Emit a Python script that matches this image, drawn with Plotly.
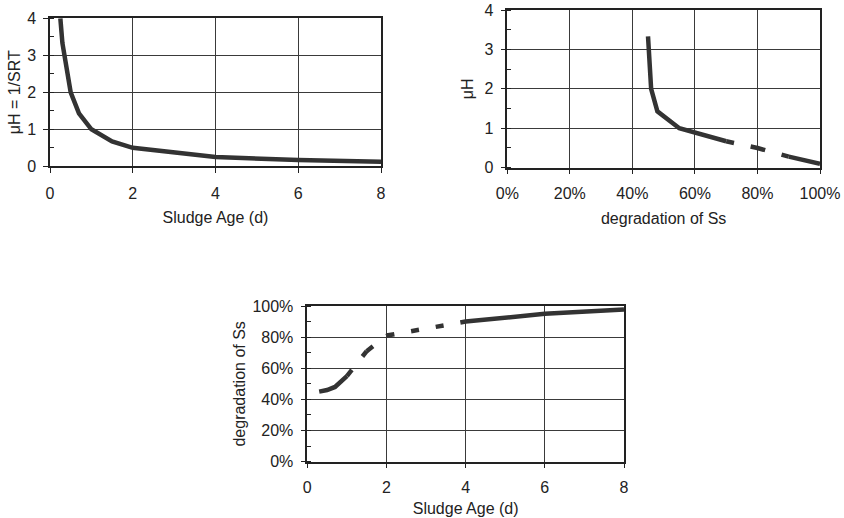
import plotly.graph_objects as go

# ---- data ----
# Chart 1: mu_H vs sludge age
srt1 = [0.25, 0.3, 0.5, 0.7, 1, 1.5, 2, 4, 6, 8]
muh1 = [4, 3.33, 2, 1.43, 1, 0.67, 0.5, 0.25, 0.17, 0.125]

# Chart 2: mu_H vs degradation of Ss
deg2 = [0.45, 0.46, 0.48, 0.55, 0.70, 0.80, 0.90, 0.95, 1.00]
muh2 = [3.33, 2, 1.43, 1, 0.67, 0.5, 0.28, 0.19, 0.10]
dash2 = (4, 6)  # index range drawn dashed

# Chart 3: degradation vs sludge age
srt3 = [0.3, 0.5, 0.7, 1, 1.5, 2, 4, 6, 8]
deg3 = [0.45, 0.46, 0.48, 0.55, 0.71, 0.81, 0.90, 0.95, 0.978]
dash3 = (3, 6)

LINE = "#333333"
GRID = "#3a3a3a"
AX = "#222222"
FONT = dict(family="Liberation Sans, Arial, sans-serif", size=16, color="#222222")
DASH = "8px,17px"

fig = go.Figure()

def add_series(x, y, xa, ya, drange):
    a, b = drange
    fig.add_trace(go.Scatter(x=x[:a + 1], y=y[:a + 1], mode="lines", xaxis=xa, yaxis=ya,
                             line=dict(color=LINE, width=4.5), hoverinfo="skip"))
    for i in range(a, b):
        fig.add_trace(go.Scatter(x=x[i:i + 2], y=y[i:i + 2], mode="lines", xaxis=xa, yaxis=ya,
                                 line=dict(color=LINE, width=4.5, dash=DASH), hoverinfo="skip"))
    fig.add_trace(go.Scatter(x=x[b:], y=y[b:], mode="lines", xaxis=xa, yaxis=ya,
                             line=dict(color=LINE, width=4.5), hoverinfo="skip"))

fig.add_trace(go.Scatter(x=srt1, y=muh1, mode="lines", xaxis="x", yaxis="y",
                         line=dict(color=LINE, width=4.5), hoverinfo="skip"))
add_series(deg2, muh2, "x2", "y2", dash2)
add_series(srt3, deg3, "x3", "y3", dash3)

W, H = 844, 518

def xd(l, r):
    return [l / W, r / W]

def yd(t, b):
    return [1 - b / H, 1 - t / H]

common = dict(showgrid=True, gridcolor=GRID, gridwidth=1, showline=True, linecolor=AX,
              linewidth=1.5, mirror=True, ticks="outside", ticklen=5, tickcolor=AX,
              tickwidth=1, zeroline=False, tickfont=FONT, automargin=False,
              ticklabeloverflow="allow")

fig.update_layout(
    width=W, height=H, margin=dict(l=0, r=0, t=0, b=0),
    paper_bgcolor="white", plot_bgcolor="white", showlegend=False,
    font=FONT,
    xaxis=dict(domain=xd(50, 381), range=[0, 8], dtick=2, anchor="y", ticklabelstandoff=7,
               title=dict(text="Sludge Age (d)", font=FONT, standoff=11), **common),
    yaxis=dict(domain=yd(18.3, 166.3), range=[0, 4], dtick=1, anchor="x", ticklabelstandoff=4,
               minor=dict(ticks="inside", dtick=0.5, ticklen=4, tickcolor=AX, showgrid=False),
               title=dict(text="μH = 1/SRT", font=FONT, standoff=3), **common),
    xaxis2=dict(domain=xd(507.3, 820), range=[0, 1], dtick=0.2, tickformat=".0%", anchor="y2",
                ticklabelstandoff=5,
                title=dict(text="degradation of Ss", font=FONT, standoff=12), **common),
    yaxis2=dict(domain=yd(10, 167.7), range=[0, 4], dtick=1, anchor="x2", ticklabelstandoff=4,
                minor=dict(ticks="inside", dtick=0.5, ticklen=4, tickcolor=AX, showgrid=False),
                title=dict(text="μH", font=FONT, standoff=7), **common),
    xaxis3=dict(domain=xd(307.3, 624), range=[0, 8], dtick=2, anchor="y3", ticklabelstandoff=5,
                title=dict(text="Sludge Age (d)", font=FONT, standoff=8), **common),
    yaxis3=dict(domain=yd(306, 461.7), range=[0, 1], dtick=0.2, tickformat=".0%", anchor="x3",
                ticklabelstandoff=4,
                minor=dict(ticks="inside", dtick=0.1, ticklen=4, tickcolor=AX, showgrid=False),
                title=dict(text="degradation of Ss", font=FONT, standoff=3), **common),
)

fig.write_html("out.html", config={"displayModeBar": False},
               post_script="document.body.style.margin='0';document.body.style.overflow='hidden';")
